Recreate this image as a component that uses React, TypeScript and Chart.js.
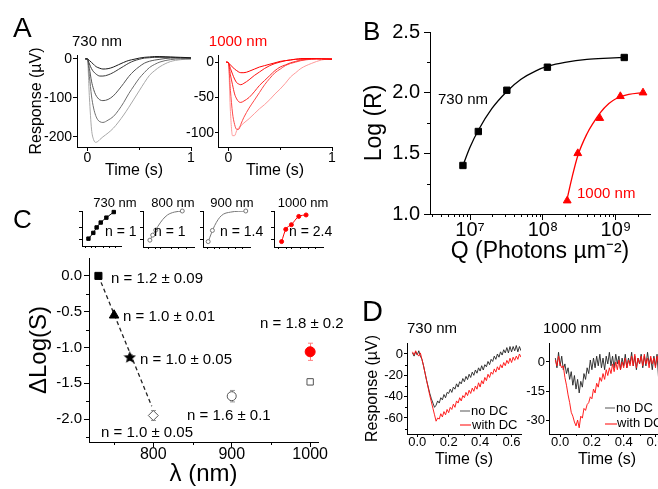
import React, { useEffect, useRef } from 'react';
import { Chart, registerables } from 'chart.js';

Chart.register(...registerables);
const FONT = "'Liberation Sans', Arial, Helvetica, sans-serif";
Chart.defaults.font.family = FONT;
Chart.defaults.color = '#000';

// ---------------- Panel A : response traces ----------------
const A_TIME = [-0.02, 0, 0.02, 0.04, 0.06, 0.08, 0.1, 0.12, 0.15, 0.2, 0.25, 0.3, 0.35, 0.4, 0.45, 0.5, 0.55, 0.6, 0.65, 0.7, 0.8, 0.9, 1.0];
const A730_T1 = [0, 0, -4, -9, -14, -19, -22, -24, -26, -25, -21, -15, -9, -4, -1, 2, 4, 5, 6, 6, 5, 4, 3];
const A730_T2 = [0, 0, -13, -25, -33, -38, -42, -44, -44, -41, -35, -27, -19, -11, -5, -1, 2, 3, 4, 4, 4, 3, 2];
const A730_T3 = [0, 0, -25, -57, -78, -92, -100, -105, -107, -104, -95, -80, -63, -45, -31, -20, -11, -6, -3, -1, 2, 2, 1];
const A730_T4 = [0, 0, -45, -95, -126, -145, -156, -161, -163, -157, -148, -132, -112, -89, -69, -50, -35, -22, -14, -8, -2, 0, 0];
const A730_T5 = [0, 0, -100, -180, -207, -214, -212, -207, -200, -190, -178, -162, -144, -124, -103, -82, -61, -42, -30, -20, -7, -2, 0];
const A1000_T1 = [0, -1, -4, -7, -10, -12, -14, -15, -15, -13, -10, -7, -5, -3, -1, 1, 2, 3, 4, 5, 5, 4, 4];
const A1000_T2 = [0, -1, -9, -17, -24, -29, -31, -32, -30, -25, -19, -14, -9, -5, -2, 0, 2, 3, 4, 4, 5, 5, 4];
const A1000_T3 = [0, -1, -18, -32, -45, -52, -56, -57, -55, -50, -42, -33, -26, -19, -12, -7, -4, -1, 1, 3, 4, 5, 4];
const A1000_T4 = [0, -1, -40, -72, -88, -95, -95, -88, -78, -65, -54, -43, -32, -23, -15, -10, -5, -2, 0, 2, 4, 5, 5];
const A1000_T5 = [0, -1, -70, -104, -104, -97, -93, -90, -86, -80, -73, -66, -60, -53, -45, -38, -30, -21, -15, -9, -2, 3, 5];
const A_XTICKS = [0, 1];
const A_XLABELS = ['0', '1'];
const A730_YTICKS = [0, -100, -200];
const A730_YLABELS = ['0', '-100', '-200'];
const A1000_YTICKS = [0, -50, -100];
const A1000_YLABELS = ['0', '-50', '-100'];

// ---------------- Panel B : intensity-response ----------------
const B_BLACK_Q = [8.0e6, 1.3e7, 3.2e7, 1.15e8, 1.3e9];
const B_BLACK_R = [1.4, 1.68, 2.02, 2.21, 2.29];
const B_RED_Q = [2.15e8, 3.0e8, 6.0e8, 1.15e9, 2.35e9];
const B_RED_R = [1.11, 1.5, 1.79, 1.97, 2.0];
const B_BLACK_FIT_Q = [8.0e6, 1.0e7, 1.3e7, 2.0e7, 3.2e7, 5.0e7, 8.0e7, 1.2e8, 2.0e8, 4.0e8, 8.0e8, 1.3e9];
const B_BLACK_FIT_R = [1.4, 1.55, 1.69, 1.87, 2.01, 2.11, 2.18, 2.22, 2.25, 2.275, 2.285, 2.29];
const B_RED_FIT_Q = [2.1e8, 2.5e8, 3.0e8, 4.0e8, 5.0e8, 6.0e8, 8.0e8, 1.0e9, 1.5e9, 2.35e9];
const B_RED_FIT_R = [1.1, 1.3, 1.48, 1.66, 1.76, 1.83, 1.91, 1.95, 1.985, 2.0];
const B_XTICKS = [1e7, 1e8, 1e9];
const B_XLABELS = ['10\u2077', '10\u2078', '10\u2079'];
const B_XMINOR = [3e6, 4e6, 5e6, 6e6, 7e6, 8e6, 9e6, 2e7, 3e7, 4e7, 5e7, 6e7, 7e7, 8e7, 9e7, 2e8, 3e8, 4e8, 5e8, 6e8, 7e8, 8e8, 9e8, 2e9];
const B_YTICKS = [1.0, 1.5, 2.0, 2.5];
const B_YLABELS = ['1.0', '1.5', '2.0', '2.5'];
const B_YMINOR = [1.25, 1.75, 2.25];

// ---------------- Panel C : insets ----------------
const I1_X = [1.65, 2.9, 3.75, 4.8, 6.25, 8.15];
const I1_Y = [2.1, 3.75, 5.3, 6.7, 8.1, 9.7];
const I2_CX = [1.35, 2.1, 2.9, 3.85, 4.8, 6.15, 7.7];
const I2_CY = [1.9, 3.8, 5.7, 7.6, 8.9, 9.7, 10.0];
const I2_X = [1.35, 1.9, 2.5, 7.7];
const I2_Y = [1.9, 3.3, 4.7, 10.0];
const I3_CX = [1.1, 2.5, 3.9, 5.9, 9.1];
const I3_CY = [1.5, 6.0, 8.7, 9.7, 10.0];
const I3_X = [1.1, 2.0, 9.1];
const I3_Y = [1.5, 4.6, 10.0];
const I4_X = [1.55, 2.4, 3.55, 5.05, 6.55];
const I4_Y = [1.5, 4.9, 6.2, 8.5, 8.9];
const INSET_XTICKS = [1, 2.5, 3.5, 5.5, 7, 8.5];
const INSET_YTICKS = [2, 5.3, 9.8];

// ---------------- Panel C : main ----------------
const C_WAVELENGTH = [730, 750, 770, 800, 900, 1000, 1000];
const C_DLOGS = [0.0, -0.55, -1.14, -1.95, -1.68, -1.06, -1.48];
const C_ERR = [0, 0, 0.04, 0.07, 0.08, 0.12, 0.04];
const C_FIT_X = [730, 798];
const C_FIT_Y = [0.0, -1.82];
const C_XTICKS = [800, 900, 1000];
const C_XLABELS = ['800', '900', '1000'];
const C_XMINOR = [750, 850, 950];
const C_YTICKS = [0, -0.5, -1.0, -1.5, -2.0];
const C_YLABELS = ['0.0', '-0.5', '-1.0', '-1.5', '-2.0'];
const C_YMINOR = [-0.25, -0.75, -1.25, -1.75, -2.25];

// ---------------- Panel D : dark-current traces ----------------
const D_TIME = [-0.03, -0.02, -0.01, 0, 0.01, 0.02, 0.03, 0.04, 0.05, 0.06, 0.07, 0.08, 0.09, 0.1, 0.11, 0.12, 0.13, 0.14, 0.15, 0.16, 0.17, 0.18, 0.19, 0.2, 0.21, 0.22, 0.23, 0.24, 0.25, 0.26, 0.27, 0.28, 0.29, 0.3, 0.31, 0.32, 0.33, 0.34, 0.35, 0.36, 0.37, 0.38, 0.39, 0.4, 0.41, 0.42, 0.43, 0.44, 0.45, 0.46, 0.47, 0.48, 0.49, 0.5, 0.51, 0.52, 0.53, 0.54, 0.55, 0.56, 0.57, 0.58, 0.59, 0.6, 0.61, 0.62, 0.63, 0.64, 0.65, 0.66];
const D730_NODC = [1, -2, 2, -1, 3, -2, -5, -11, -18, -25, -31, -37, -42, -46, -50, -48, -44, -46, -41, -43, -38, -41, -36, -37, -33, -36, -31, -33, -28, -31, -26, -28, -23, -26, -21, -24, -19, -22, -17, -20, -15, -18, -13, -16, -11, -15, -10, -12, -7, -10, -5, -7, -2, -5, 0, -3, 2, -1, 4, 1, 6, 1, 7, 2, 7, 3, 8, 2, 7, 3];
const D730_DC = [2, -1, 3, 0, -2, 1, -5, -11, -18, -25, -32, -39, -45, -51, -57, -63, -60, -61, -56, -59, -54, -57, -52, -55, -50, -52, -47, -50, -44, -46, -41, -44, -39, -41, -36, -39, -34, -37, -32, -35, -30, -33, -27, -31, -25, -28, -22, -25, -19, -22, -17, -19, -14, -17, -12, -15, -10, -13, -8, -11, -6, -9, -4, -8, -3, -6, -2, -5, 0, -3];
const D1000_NODC = [2, -3, 5, -2, 3, -4, -1, -6, -3, -9, -5, -12, -7, -14, -9, -16, -10, -13, -6, -9, -3, -6, 1, -4, 2, -3, 3, -2, 4, -3, 2, -4, 3, -1, 5, -2, 3, -3, 4, -1, 3, -4, 2, -2, 4, -3, 2, -1, 5, -2, 3, -4, 2, -1, 4, -3, 3, -2, 5, -1, 2, -4, 3, -2, 4, -9, 1, -3, 4, -2];
const D1000_DC = [1, -2, 3, -1, -3, -2, -8, -12, -17, -21, -26, -28, -31, -33, -30, -34, -28, -29, -24, -25, -22, -21, -18, -19, -14, -16, -11, -13, -8, -10, -6, -9, -4, -7, -3, -6, -1, -5, 0, -4, 1, -4, 0, -3, 2, -3, 1, -2, 3, -2, 4, -3, 2, -1, 3, -2, 4, -1, 2, -3, 3, -1, 2, -3, 3, -1, 2, -2, 3, 0];
const D_XTICKS = [0, 0.2, 0.4, 0.6];
const D_XLABELS = ['0.0', '0.2', '0.4', '0.6'];
const D_XMINOR = [0.1, 0.3, 0.5];
const D730_YTICKS = [0, -20, -40, -60];
const D730_YLABELS = ['0', '-20', '-40', '-60'];
const D730_YMINOR = [-10, -30, -50, -70];
const D1000_YTICKS = [0, -15, -30];
const D1000_YLABELS = ['0', '-15', '-30'];

// ---------------- helpers ----------------
function minorTicks(sets: { axis: string; values: number[]; len: number }[]) {
  return {
    id: 'minorTicks',
    afterDraw(chart: any) {
      const { ctx, chartArea } = chart;
      ctx.save();
      ctx.strokeStyle = '#000';
      ctx.lineWidth = 1;
      for (const s of sets) {
        const sc = chart.scales[s.axis];
        for (const v of s.values) {
          const p = Math.round(sc.getPixelForValue(v)) + 0.5;
          ctx.beginPath();
          if (s.axis === 'x') {
            ctx.moveTo(p, chartArea.bottom);
            ctx.lineTo(p, chartArea.bottom + s.len);
          } else {
            ctx.moveTo(chartArea.left, p);
            ctx.lineTo(chartArea.left - s.len, p);
          }
          ctx.stroke();
        }
      }
      ctx.restore();
    },
  };
}

const errorBars = {
  id: 'errorBars',
  beforeDatasetsDraw(chart: any) {
    const ctx = chart.ctx;
    const ys = chart.scales.y;
    chart.data.datasets.forEach((ds: any, i: number) => {
      if (!ds.errors) return;
      const meta = chart.getDatasetMeta(i);
      meta.data.forEach((el: any, j: number) => {
        const e = ds.errors[j];
        if (!e) return;
        const v = ds.data[j].y;
        const top = ys.getPixelForValue(v + e);
        const bot = ys.getPixelForValue(v - e);
        const x = Math.round(el.x) + 0.5;
        ctx.save();
        ctx.strokeStyle = ds.errorColors[j];
        ctx.lineWidth = 1;
        ctx.beginPath();
        ctx.moveTo(x, top);
        ctx.lineTo(x, bot);
        ctx.moveTo(x - 2.5, top);
        ctx.lineTo(x + 2.5, top);
        ctx.moveTo(x - 2.5, bot);
        ctx.lineTo(x + 2.5, bot);
        ctx.stroke();
        ctx.restore();
      });
    });
  },
};

function axis(a: any) {
  return {
    type: a.type || 'linear',
    min: a.min,
    max: a.max,
    bounds: 'data',
    afterBuildTicks: (s: any) => {
      s.ticks = a.ticks.map((v: number) => ({ value: v }));
    },
    ticks: {
      display: !!a.labels,
      font: { size: a.fs || 12, family: FONT },
      color: '#000',
      padding: a.pad || 0,
      autoSkip: false,
      maxRotation: 0,
      minRotation: 0,
      callback: (_v: any, i: number) => (a.labels ? a.labels[i] : ''),
    },
    grid: { display: true, drawOnChartArea: false, drawTicks: true, tickLength: a.tl, color: '#000', lineWidth: 1 },
    border: { display: true, color: '#000', width: 1 },
    title: a.title
      ? { display: true, text: a.title, font: { size: a.tfs, family: FONT }, color: '#000', padding: 0 }
      : { display: false },
  };
}

function lineDs(xs: number[], ys: number[], color: string, width: number, extra: any = {}) {
  return {
    data: xs.map((x, i) => ({ x, y: ys[i] })),
    borderColor: color,
    backgroundColor: color,
    borderWidth: width,
    pointRadius: 0,
    tension: 0,
    fill: false,
    ...extra,
  };
}

function ptsDs(xs: number[], ys: number[], style: any, radius: number, fillC: string, borderC: string, extra: any = {}) {
  return {
    data: xs.map((x, i) => ({ x, y: ys[i] })),
    showLine: false,
    pointStyle: style,
    pointRadius: radius,
    pointBackgroundColor: fillC,
    pointBorderColor: borderC,
    pointBorderWidth: 1,
    clip: false,
    ...extra,
  };
}

function opts(x: any, y: any) {
  return {
    responsive: false,
    animation: false,
    events: [],
    plugins: { legend: { display: false }, tooltip: { enabled: false } },
    scales: { x, y },
  };
}

type Box = { x0: number; y0: number; x1: number; y1: number; yw: number; xh: number; pt?: number; pr?: number };

function Plot({ box, make }: { box: Box; make: () => any }) {
  const ref = useRef<HTMLCanvasElement>(null);
  const pt = box.pt ?? 14;
  const pr = box.pr ?? 14;
  const L = box.x0 - box.yw;
  const T = box.y0 - pt;
  const W = box.x1 + pr - L;
  const H = box.y1 + box.xh - T;
  useEffect(() => {
    const cfg = make();
    cfg.options.layout = { padding: { top: pt, right: pr, left: 0, bottom: 0 } };
    cfg.options.scales.x.afterFit = (s: any) => {
      s.height = box.xh;
    };
    cfg.options.scales.y.afterFit = (s: any) => {
      s.width = box.yw;
    };
    const chart = new Chart(ref.current as HTMLCanvasElement, cfg);
    return () => chart.destroy();
  }, []);
  return <canvas ref={ref} width={W} height={H} style={{ position: 'absolute', left: L, top: T, width: W, height: H }} />;
}

function Txt({ x, cy, fs, text, color = '#000', center = false }: any) {
  const style: any = {
    position: 'absolute',
    left: x,
    top: cy - 0.49 * fs,
    fontSize: fs,
    lineHeight: 1,
    fontFamily: FONT,
    color,
    whiteSpace: 'nowrap',
  };
  if (center) style.transform = 'translateX(-50%)';
  return <div style={style}>{text}</div>;
}

function LegendLine({ x, y, w, color }: any) {
  return <div style={{ position: 'absolute', left: x, top: y - 0.75, width: w, height: 1.5, background: color }} />;
}

function makeStar(size: number, color: string) {
  const c = document.createElement('canvas');
  c.width = size;
  c.height = size;
  const g = c.getContext('2d') as CanvasRenderingContext2D;
  const R = size / 2;
  const r = R * 0.45;
  g.beginPath();
  for (let k = 0; k < 10; k++) {
    const ang = -Math.PI / 2 + (k * Math.PI) / 5;
    const rad = k % 2 === 0 ? R : r;
    g.lineTo(R + rad * Math.cos(ang), R + rad * Math.sin(ang));
  }
  g.closePath();
  g.fillStyle = color;
  g.fill();
  return c;
}

// ---------------- layout boxes ----------------
const BOX_A1: Box = { x0: 77, y0: 55, x1: 191, y1: 147, yw: 50, xh: 33 };
const BOX_A2: Box = { x0: 218, y0: 55, x1: 332, y1: 147, yw: 40, xh: 33 };
const BOX_B: Box = { x0: 430, y0: 32, x1: 650, y1: 214, yw: 69, xh: 51, pt: 20 };
const BOX_I1: Box = { x0: 82, y0: 210, x1: 122, y1: 246, yw: 10, xh: 8, pt: 4, pr: 4 };
const BOX_I2: Box = { x0: 143, y0: 210, x1: 195, y1: 247, yw: 10, xh: 8, pt: 4, pr: 4 };
const BOX_I3: Box = { x0: 203, y0: 210, x1: 251, y1: 247, yw: 10, xh: 8, pt: 4, pr: 4 };
const BOX_I4: Box = { x0: 274, y0: 210, x1: 324, y1: 247, yw: 10, xh: 8, pt: 4, pr: 4 };
const BOX_C: Box = { x0: 89, y0: 258, x1: 318, y1: 442, yw: 64, xh: 47 };
const BOX_D1: Box = { x0: 407, y0: 343, x1: 521, y1: 434, yw: 44, xh: 35 };
const BOX_D2: Box = { x0: 549, y0: 343, x1: 665, y1: 434, yw: 40, xh: 35 };

// ---------------- chart makers ----------------
const makeA1 = () => {
  const traces = [A730_T1, A730_T2, A730_T3, A730_T4, A730_T5];
  const colors = ['#1a1a1a', '#3a3a3a', '#555555', '#6e6e6e', '#a8a8a8'];
  return {
    type: 'line',
    data: { datasets: traces.map((ys, i) => lineDs(A_TIME, ys, colors[i], 1, { cubicInterpolationMode: 'monotone' })) },
    options: opts(
      axis({ min: -0.1, max: 1.0, ticks: A_XTICKS, labels: A_XLABELS, fs: 14, tl: 4, pad: -1, title: 'Time (s)', tfs: 16 }),
      axis({ min: -226, max: 10, ticks: A730_YTICKS, labels: A730_YLABELS, fs: 14, tl: 4, pad: 1, title: 'Response (\u00b5V)', tfs: 16 })
    ),
    plugins: [minorTicks([{ axis: 'x', values: [0.5], len: 3 }])],
  };
};

const makeA2 = () => {
  const traces = [A1000_T1, A1000_T2, A1000_T3, A1000_T4, A1000_T5];
  const colors = ['#ff0000', '#ff1414', '#ff2a2a', '#ff4848', '#ff9a9a'];
  return {
    type: 'line',
    data: { datasets: traces.map((ys, i) => lineDs(A_TIME, ys, colors[i], 1, { cubicInterpolationMode: 'monotone' })) },
    options: opts(
      axis({ min: -0.1, max: 1.0, ticks: A_XTICKS, labels: A_XLABELS, fs: 14, tl: 4, pad: -1, title: 'Time (s)', tfs: 16 }),
      axis({ min: -120, max: 10, ticks: A1000_YTICKS, labels: A1000_YLABELS, fs: 14, tl: 3, pad: 1 })
    ),
    plugins: [minorTicks([{ axis: 'x', values: [0.5], len: 3 }])],
  };
};

const makeB = () => ({
  type: 'line',
  data: {
    datasets: [
      ptsDs(B_BLACK_Q, B_BLACK_R, 'rect', 4.5, '#000', '#000'),
      ptsDs(B_RED_Q, B_RED_R, 'triangle', 4.5, '#ff0000', '#ff0000'),
      lineDs(B_BLACK_FIT_Q, B_BLACK_FIT_R, '#000', 1.3, { cubicInterpolationMode: 'monotone' }),
      lineDs(B_RED_FIT_Q, B_RED_FIT_R, '#ff0000', 1.3, { cubicInterpolationMode: 'monotone' }),
    ],
  },
  options: opts(
    axis({ type: 'logarithmic', min: 2.83e6, max: 2.93e9, ticks: B_XTICKS, labels: B_XLABELS, fs: 20, tl: 6, pad: -2, title: 'Q (Photons \u00b5m\u207b\u00b2)', tfs: 23 }),
    axis({ min: 1.0, max: 2.5, ticks: B_YTICKS, labels: B_YLABELS, fs: 20, tl: 6, pad: 4, title: 'Log (R)', tfs: 23 })
  ),
  plugins: [minorTicks([{ axis: 'x', values: B_XMINOR, len: 3 }, { axis: 'y', values: B_YMINOR, len: 3 }])],
});

const insetAxes = () =>
  opts(
    axis({ min: 0, max: 10, ticks: INSET_XTICKS, tl: 2 }),
    axis({ min: 0, max: 10, ticks: INSET_YTICKS, tl: 3 })
  );

const makeI1 = () => ({
  type: 'line',
  data: { datasets: [ptsDs(I1_X, I1_Y, 'rect', 2.4, '#000', '#000'), lineDs(I1_X, I1_Y, '#000', 1, { cubicInterpolationMode: 'monotone' })] },
  options: insetAxes(),
});
const makeI2 = () => ({
  type: 'line',
  data: { datasets: [ptsDs(I2_X, I2_Y, 'circle', 2, '#fff', '#777'), lineDs(I2_CX, I2_CY, '#777', 1, { cubicInterpolationMode: 'monotone' })] },
  options: insetAxes(),
});
const makeI3 = () => ({
  type: 'line',
  data: { datasets: [ptsDs(I3_X, I3_Y, 'circle', 2, '#fff', '#777'), lineDs(I3_CX, I3_CY, '#777', 1, { cubicInterpolationMode: 'monotone' })] },
  options: insetAxes(),
});
const makeI4 = () => ({
  type: 'line',
  data: { datasets: [ptsDs(I4_X, I4_Y, 'circle', 2, '#ff0000', '#ff0000'), lineDs(I4_X, I4_Y, '#ff0000', 1, { cubicInterpolationMode: 'monotone' })] },
  options: insetAxes(),
});

const makeC = () => {
  const star = makeStar(13, '#000');
  return {
    type: 'line',
    data: {
      datasets: [
        {
          data: C_WAVELENGTH.map((x, i) => ({ x, y: C_DLOGS[i] })),
          showLine: false,
          clip: false,
          pointStyle: ['rect', 'triangle', star, 'rectRot', 'circle', 'circle', 'rect'],
          pointRadius: [5, 5.5, 7, 5, 4.5, 5, 4.5],
          pointBackgroundColor: ['#000', '#000', '#000', '#fff', '#fff', '#ff0000', '#fff'],
          pointBorderColor: ['#000', '#000', '#000', '#555', '#555', '#ff0000', '#555'],
          pointBorderWidth: 1,
          errors: C_ERR,
          errorColors: ['#000', '#000', '#999', '#999', '#999', '#ff8080', '#999'],
        },
        lineDs(C_FIT_X, C_FIT_Y, '#222', 1.3, { borderDash: [4, 3] }),
      ],
    },
    options: opts(
      axis({ min: 718, max: 1010, ticks: C_XTICKS, labels: C_XLABELS, fs: 16, tl: 5, pad: -2, title: '\u03bb (nm)', tfs: 24 }),
      axis({ min: -2.32, max: 0.25, ticks: C_YTICKS, labels: C_YLABELS, fs: 15, tl: 5, pad: 2, title: '\u0394Log(S)', tfs: 24 })
    ),
    plugins: [errorBars, minorTicks([{ axis: 'x', values: C_XMINOR, len: 3 }, { axis: 'y', values: C_YMINOR, len: 3 }])],
  };
};

const makeD1 = () => ({
  type: 'line',
  data: {
    datasets: [
      lineDs(D_TIME, D730_DC, 'rgba(255,20,20,0.95)', 1),
      lineDs(D_TIME, D730_NODC, 'rgba(35,35,35,0.9)', 1),
    ],
  },
  options: opts(
    axis({ min: -0.065, max: 0.66, ticks: D_XTICKS, labels: D_XLABELS, fs: 13, tl: 3, pad: -2, title: 'Time (s)', tfs: 16 }),
    axis({ min: -75, max: 10.3, ticks: D730_YTICKS, labels: D730_YLABELS, fs: 13, tl: 3, pad: 1, title: 'Response (\u00b5V)', tfs: 16 })
  ),
  plugins: [minorTicks([{ axis: 'x', values: D_XMINOR, len: 2 }, { axis: 'y', values: D730_YMINOR, len: 2 }])],
});

const makeD2 = () => ({
  type: 'line',
  data: {
    datasets: [
      lineDs(D_TIME, D1000_DC, 'rgba(255,20,20,0.95)', 1),
      lineDs(D_TIME, D1000_NODC, 'rgba(35,35,35,0.9)', 1),
    ],
  },
  options: opts(
    axis({ min: -0.07, max: 0.66, ticks: D_XTICKS, labels: D_XLABELS, fs: 13, tl: 3, pad: -2, title: 'Time (s)', tfs: 16 }),
    axis({ min: -37.2, max: 9.8, ticks: D1000_YTICKS, labels: D1000_YLABELS, fs: 13, tl: 3, pad: 1 })
  ),
  plugins: [minorTicks([{ axis: 'x', values: D_XMINOR, len: 2 }])],
});

export default function App() {
  return (
    <div style={{ position: 'absolute', left: 0, top: 0, width: 658, height: 489, overflow: 'hidden', background: '#fff', fontFamily: FONT }}>
      <Plot box={BOX_A1} make={makeA1} />
      <Plot box={BOX_A2} make={makeA2} />
      <Plot box={BOX_B} make={makeB} />
      <Plot box={BOX_C} make={makeC} />
      <Plot box={BOX_I1} make={makeI1} />
      <Plot box={BOX_I2} make={makeI2} />
      <Plot box={BOX_I3} make={makeI3} />
      <Plot box={BOX_I4} make={makeI4} />
      <Plot box={BOX_D1} make={makeD1} />
      <Plot box={BOX_D2} make={makeD2} />

      <Txt x={13} cy={28} fs={28} text="A" />
      <Txt x={97} cy={40} fs={15} text="730 nm" center />
      <Txt x={238} cy={40} fs={15} text="1000 nm" color="#ff0000" center />

      <Txt x={363} cy={31} fs={26} text="B" />
      <Txt x={438} cy={98} fs={15} text="730 nm" />
      <Txt x={577} cy={192} fs={15} text="1000 nm" color="#ff0000" />

      <Txt x={13} cy={219} fs={26} text="C" />
      <Txt x={115} cy={202} fs={13} text="730 nm" center />
      <Txt x={173} cy={202} fs={13} text="800 nm" center />
      <Txt x={232} cy={202} fs={13} text="900 nm" center />
      <Txt x={303} cy={202} fs={13} text="1000 nm" center />
      <Txt x={105} cy={231} fs={14} text="n = 1" />
      <Txt x={154} cy={231} fs={14} text="n = 1" />
      <Txt x={220} cy={231} fs={14} text="n = 1.4" />
      <Txt x={289} cy={231} fs={14} text="n = 2.4" />
      <Txt x={111} cy={277} fs={15} text="n = 1.2 ± 0.09" />
      <Txt x={123} cy={315} fs={15} text="n = 1.0 ± 0.01" />
      <Txt x={140} cy={358} fs={15} text="n = 1.0 ± 0.05" />
      <Txt x={101} cy={431} fs={15} text="n = 1.0 ± 0.05" />
      <Txt x={187} cy={414} fs={15} text="n = 1.6 ± 0.1" />
      <Txt x={260} cy={322} fs={15} text="n = 1.8 ± 0.2" />

      <Txt x={362} cy={311} fs={29} text="D" />
      <Txt x={407} cy={327} fs={15} text="730 nm" />
      <Txt x={543} cy={327} fs={15} text="1000 nm" />
      <LegendLine x={460} y={411} w={10} color="#aaaaaa" />
      <Txt x={471} cy={410} fs={13} text="no DC" />
      <LegendLine x={460} y={425} w={11} color="#ff8080" />
      <Txt x={472} cy={424} fs={13} text="with DC" />
      <LegendLine x={605} y={408} w={10} color="#aaaaaa" />
      <Txt x={616} cy={407} fs={13} text="no DC" />
      <LegendLine x={605} y={424} w={12} color="#ff8080" />
      <Txt x={617} cy={422} fs={13} text="with DC" />
    </div>
  );
}
